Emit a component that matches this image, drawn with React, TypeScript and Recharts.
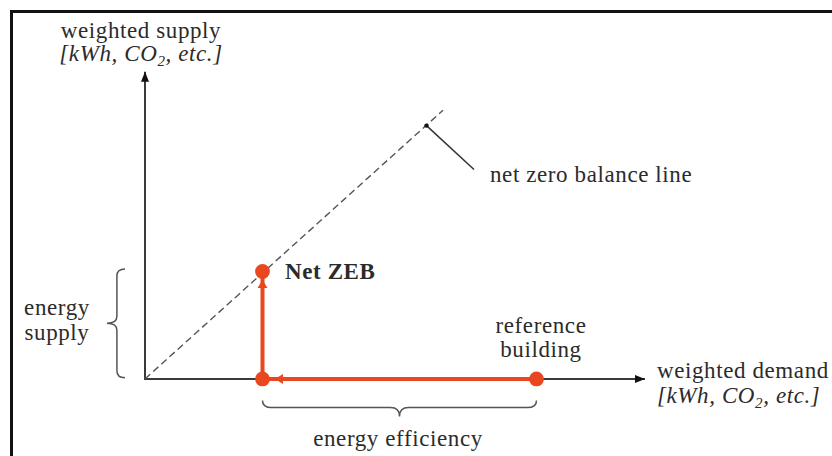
import React from 'react';
import {
  ComposedChart,
  XAxis,
  YAxis,
  Scatter,
  ReferenceDot,
  ReferenceArea,
} from 'recharts';

// ---- data (in weighted demand / weighted supply units) ----
const POINT_NAMES = ['reference building', 'efficiency step', 'Net ZEB'];
const DEMAND = [78.3, 23.5, 23.5];
const SUPPLY = [0, 0, 35];
const AXIS_MAX = 100;
const BALANCE_END = { x: 59.6, y: 87.5 };
const LEADER_FROM = { x: 56.3, y: 82.5 };
const LEADER_TO = { x: 65.8, y: 68.2 };
const RED_TIP_DEMAND = 26;
const RED_TIP_SUPPLY = 32.2;

const X_DOMAIN: [number, number] = [-29, 137.4];
const Y_DOMAIN: [number, number] = [-25.1, 123.4];

const RED = '#E8471F';
const INK = '#2b2b2b';
const AXIS = '#3a3a3a';
const FONT = '"Liberation Serif", "Times New Roman", serif';
const FS = 23;
const LS = 0.6;

const pathData = POINT_NAMES.map((name, i) => ({ name, x: DEMAND[i], y: SUPPLY[i] }));
const axisData = [
  { x: 0, y: AXIS_MAX },
  { x: 0, y: 0 },
  { x: AXIS_MAX, y: 0 },
];
const balanceData = [{ x: 0, y: 0 }, BALANCE_END];
const leaderData = [LEADER_FROM, LEADER_TO];
const arrowData = [
  { x: 0, y: AXIS_MAX, dir: 'up', kind: 'axis' },
  { x: AXIS_MAX, y: 0, dir: 'right', kind: 'axis' },
  { x: RED_TIP_DEMAND, y: 0, dir: 'left', kind: 'red' },
  { x: DEMAND[1], y: RED_TIP_SUPPLY, dir: 'up', kind: 'red' },
];

const Empty = () => <g />;

const ArrowHead = (props: any) => {
  const { cx, cy, payload } = props;
  const red = payload.kind === 'red';
  const len = red ? 8 : 10;
  const half = red ? 5 : 4;
  let pts = '';
  if (payload.dir === 'up') pts = `${cx},${cy} ${cx - half},${cy + len} ${cx + half},${cy + len}`;
  if (payload.dir === 'right') pts = `${cx},${cy} ${cx - len},${cy - half} ${cx - len},${cy + half}`;
  if (payload.dir === 'left') pts = `${cx},${cy} ${cx + len},${cy - half} ${cx + len},${cy + half}`;
  return <polygon points={pts} fill={red ? RED : '#111'} />;
};

const Dot = (props: any) => {
  const { cx, cy } = props;
  return <circle cx={cx} cy={cy} r={7.4} fill={RED} />;
};

const LeaderDot = (props: any) => {
  const { cx, cy, index } = props;
  if (index !== 0) return <g />;
  return <circle cx={cx} cy={cy} r={2.2} fill="#111" />;
};

// curly brace drawn inside the reference area rectangle
const VBrace = (props: any) => {
  const { x, y, width, height } = props;
  const xr = x + width;
  const xm = x + width * 0.55;
  const xl = x;
  const yt = y;
  const yb = y + height;
  const ym = y + height / 2;
  const q = 7;
  const d = `M${xr},${yt} Q${xm},${yt} ${xm},${yt + q} L${xm},${ym - q} Q${xm},${ym} ${xl},${ym} Q${xm},${ym} ${xm},${ym + q} L${xm},${yb - q} Q${xm},${yb} ${xr},${yb}`;
  return <path d={d} fill="none" stroke="#555" strokeWidth={1.5} />;
};

const HBrace = (props: any) => {
  const { x, y, width, height } = props;
  const yt = y;
  const ym = y + height * 0.45;
  const yb = y + height;
  const xl = x;
  const xr = x + width;
  const xc = x + width / 2;
  const q = 9;
  const d = `M${xl},${yt} Q${xl},${ym} ${xl + q},${ym} L${xc - q},${ym} Q${xc},${ym} ${xc},${yb} Q${xc},${ym} ${xc + q},${ym} L${xr - q},${ym} Q${xr},${ym} ${xr},${yt}`;
  return <path d={d} fill="none" stroke="#555" strokeWidth={1.5} />;
};

const textShape =
  (lines: React.ReactNode[], anchor: 'start' | 'middle' | 'end', opts: { italic?: boolean[]; bold?: boolean; lh?: number } = {}) =>
  (p: any) => (
    <text
      x={p.cx}
      y={p.cy}
      textAnchor={anchor}
      fontFamily={FONT}
      fontSize={FS}
      letterSpacing={LS}
      fill={INK}
      fontWeight={opts.bold ? 'bold' : 'normal'}
    >
      {lines.map((l, i) => (
        <tspan key={i} x={p.cx} dy={i === 0 ? 0 : opts.lh ?? 24} fontStyle={opts.italic && opts.italic[i] ? 'italic' : 'normal'}>
          {l}
        </tspan>
      ))}
    </text>
  );

const unitsLabel = (
  <>
    [kWh, CO<tspan fontSize={15} dy={5}>2</tspan>
    <tspan dy={-5}>, etc.]</tspan>
  </>
);

export default function App() {
  return (
    <div style={{ position: 'absolute', left: 0, top: 0, width: 832, height: 456, background: '#fff' }}>
      <div
        style={{
          position: 'absolute',
          left: 10,
          top: 10,
          width: 822,
          height: 446,
          borderTop: '3px solid #111',
          borderLeft: '3px solid #111',
          boxSizing: 'border-box',
        }}
      />
      <div style={{ position: 'absolute', left: 0, top: 0 }}>
        <ComposedChart width={832} height={456} margin={{ top: 0, right: 0, bottom: 0, left: 0 }}>
          <XAxis type="number" dataKey="x" domain={X_DOMAIN} hide allowDataOverflow />
          <YAxis type="number" dataKey="y" domain={Y_DOMAIN} hide allowDataOverflow />

          <ReferenceArea x1={-7.6} x2={-4} y1={0.4} y2={35.8} shape={<VBrace />} ifOverflow="visible" />
          <ReferenceArea x1={DEMAND[1]} x2={DEMAND[0]} y1={-12.2} y2={-7} shape={<HBrace />} ifOverflow="visible" />

          <Scatter data={axisData} dataKey="y" line={{ stroke: AXIS, strokeWidth: 2 }} shape={<Empty />} isAnimationActive={false} />
          <Scatter
            data={balanceData}
            dataKey="y"
            line={{ stroke: '#555', strokeWidth: 1.4, strokeDasharray: '7 4' }}
            shape={<Empty />}
            isAnimationActive={false}
          />
          <Scatter data={leaderData} dataKey="y" line={{ stroke: '#333', strokeWidth: 1.5 }} shape={<LeaderDot />} isAnimationActive={false} />
          <Scatter data={pathData} dataKey="y" line={{ stroke: RED, strokeWidth: 4 }} shape={<Dot />} isAnimationActive={false} />
          <Scatter data={arrowData} dataKey="y" shape={<ArrowHead />} isAnimationActive={false} />

          <ReferenceDot x={-0.8} y={111.1} r={0} shape={textShape(['weighted supply', unitsLabel], 'middle', { italic: [false, true], lh: 23 })} />
          <ReferenceDot x={69} y={64.2} r={0} shape={textShape(['net zero balance line'], 'start')} />
          <ReferenceDot x={28} y={32.6} r={0} shape={textShape(['Net ZEB'], 'start', { bold: true })} />
          <ReferenceDot x={-17.6} y={20.8} r={0} shape={textShape(['energy', 'supply'], 'middle', { lh: 25 })} />
          <ReferenceDot x={79.2} y={15} r={0} shape={textShape(['reference', 'building'], 'middle', { lh: 24 })} />
          <ReferenceDot x={102.4} y={0.3} r={0} shape={textShape(['weighted demand', unitsLabel], 'start', { italic: [false, true], lh: 25 })} />
          <ReferenceDot x={50.6} y={-22} r={0} shape={textShape(['energy efficiency'], 'middle')} />
        </ComposedChart>
      </div>
    </div>
  );
}
